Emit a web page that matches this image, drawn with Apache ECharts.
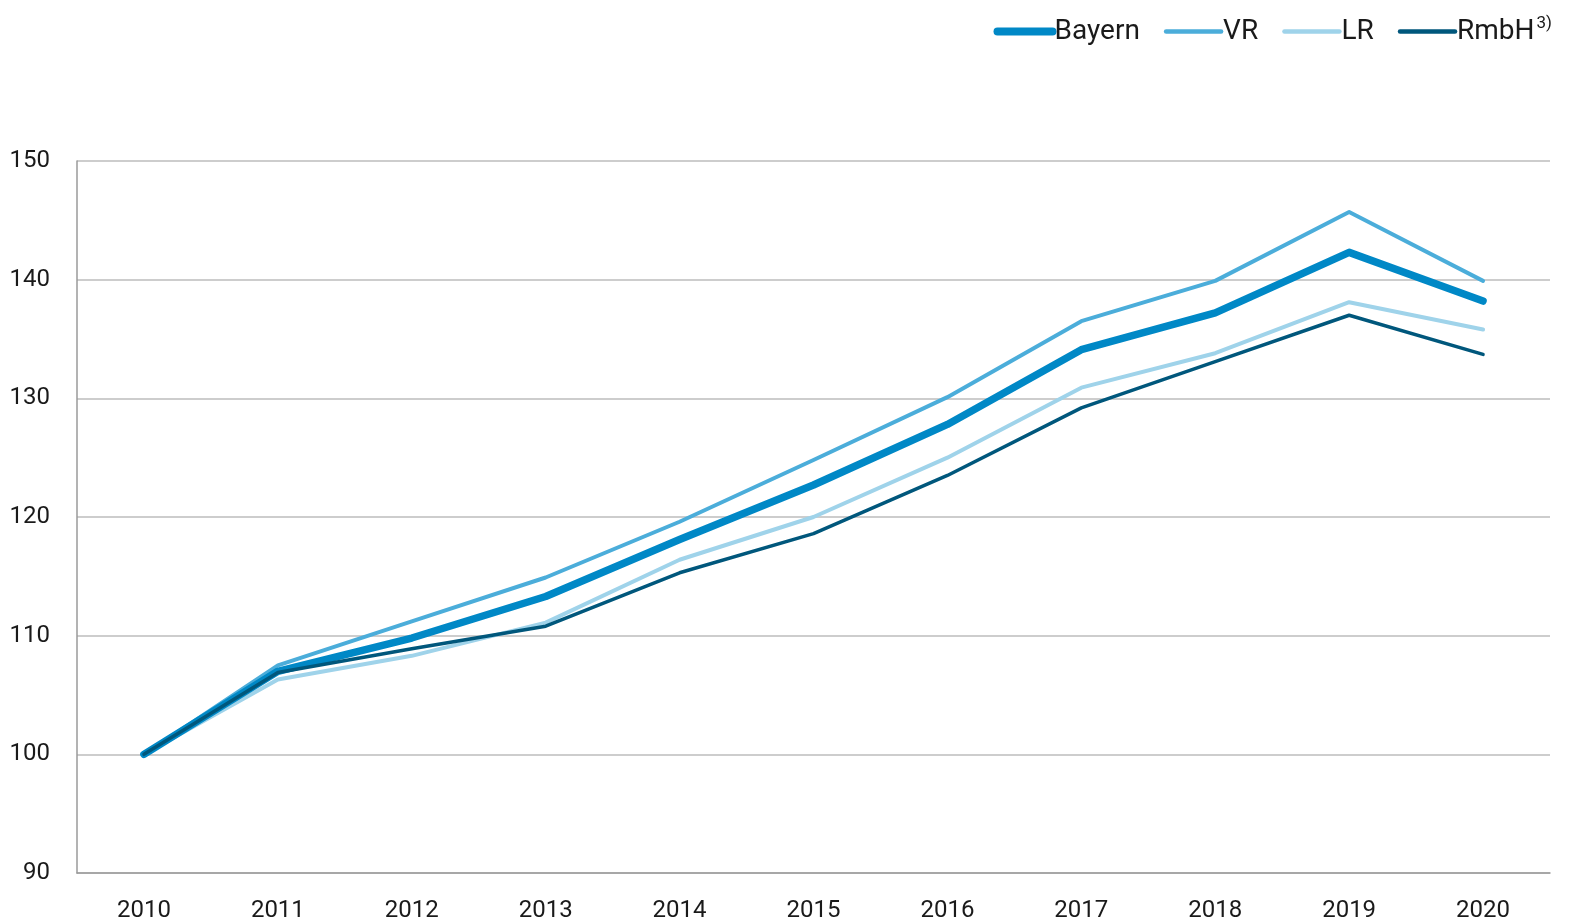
<!DOCTYPE html>
<html>
<head>
<meta charset="utf-8">
<script src="https://cdn.jsdelivr.net/npm/echarts@6/dist/echarts.min.js"></script>
<style>
html,body{margin:0;padding:0;background:#fff;}
#chart{width:1571px;height:924px;}
</style>
</head>
<body>
<div id="chart"></div>
<script>
const years = ['2010','2011','2012','2013','2014','2015','2016','2017','2018','2019','2020'];
const bayern = [100, 107.0, 109.8, 113.3, 118.1, 122.7, 127.8, 134.1, 137.2, 142.3, 138.2];
const vr     = [100, 107.5, 111.2, 114.9, 119.6, 124.8, 130.1, 136.5, 139.9, 145.7, 139.9];
const lr     = [100, 106.3, 108.3, 111.1, 116.4, 120.0, 125.0, 130.9, 133.8, 138.1, 135.8];
const rmbh   = [100, 106.9, 108.9, 110.8, 115.3, 118.6, 123.5, 129.2, 133.1, 137.0, 133.7];
const yTicks = [90, 100, 110, 120, 130, 140, 150];

const chart = echarts.init(document.getElementById('chart'));
const font = 'Roboto, "Liberation Sans", sans-serif';
function mk(name, data, color, width, z) {
  return {
    name: name, type: 'line', data: data, symbol: 'none', z: z,
    lineStyle: { color: color, width: width, cap: 'round', join: 'round' },
    itemStyle: { color: color }
  };
}
chart.setOption({
  animation: false,
  grid: { left: 77, right: 21, top: 161, bottom: 51, containLabel: false },
  legend: {
    right: 14, top: 10,
    itemWidth: 55, itemHeight: 14, itemGap: 24,
    data: [
      { name: 'Bayern', lineStyle: { width: 8, cap: 'round' } },
      { name: 'VR', lineStyle: { width: 4.5, cap: 'round' } },
      { name: 'LR', lineStyle: { width: 4.5, cap: 'round' } },
      { name: 'RmbH', lineStyle: { width: 4.5, cap: 'round' } }
    ],
    itemStyle: { opacity: 0 },
    textStyle: { fontFamily: font, fontSize: 28, color: '#1a1a1a', padding: [0,0,0,-3],
      rich: { sup: { fontFamily: font, fontSize: 17, color: '#1a1a1a', verticalAlign: 'top', padding: [0,0,16,2] } } },
    formatter: function (n) { return n === 'RmbH' ? 'RmbH{sup|3)}' : n; }
  },
  xAxis: {
    type: 'category', data: years, boundaryGap: true,
    axisLine: { show: true, lineStyle: { color: '#9a9a9a', width: 1.5 } },
    axisTick: { show: false },
    axisLabel: { fontFamily: font, fontSize: 24, color: '#1a1a1a', margin: 26 }
  },
  yAxis: {
    type: 'value', min: yTicks[0], max: yTicks[yTicks.length-1], interval: 10,
    axisLine: { show: true, lineStyle: { color: '#9a9a9a', width: 1.5 } },
    axisTick: { show: false },
    splitLine: { lineStyle: { color: '#bdbdbd', width: 1.5 } },
    axisLabel: { fontFamily: font, fontSize: 24, color: '#1a1a1a', margin: 27 }
  },
  series: [
    mk('LR', lr, '#9fd3ea', 4, 2),
    mk('VR', vr, '#4badda', 4, 3),
    mk('Bayern', bayern, '#0088c6', 7.5, 4),
    mk('RmbH', rmbh, '#00577c', 3.5, 5)
  ]
});
</script>
</body>
</html>
